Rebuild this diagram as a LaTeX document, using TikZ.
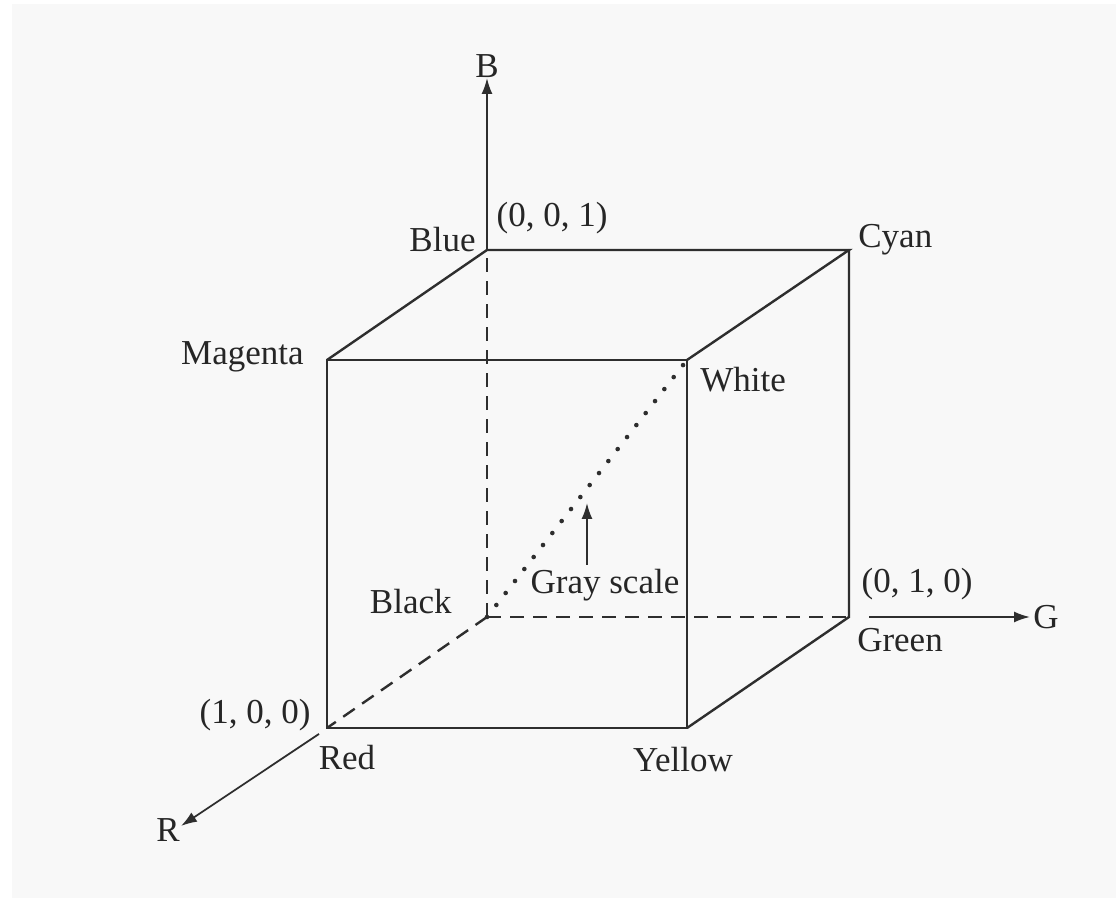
\documentclass[tikz,border=0pt]{standalone}
\usepackage{fontspec}
\setmainfont{Liberation Serif}
\usetikzlibrary{arrows.meta}
\definecolor{bg}{HTML}{F8F8F8}
\definecolor{ln}{HTML}{2E2E2E}
\begin{document}
\begin{tikzpicture}[x=0.5pt,y=-0.5pt,
  edge/.style={draw=ln,line width=1.2pt,line cap=round,line join=miter},
  hidden/.style={draw=ln,line width=1.2pt,dash pattern=on 7pt off 4.5pt},
  graydiag/.style={draw=ln,line width=2.3pt,line cap=round,dash pattern=on 0pt off 7.6pt},
  axis/.style={draw=ln,line width=0.9pt,-{Latex[length=8pt,width=5.5pt]}},
  lbl/.style={font=\fontsize{17.5}{21}\selectfont,text=black!85,inner sep=0pt}]
\useasboundingbox (0,0) rectangle (1116,898);
\fill[white] (0,0) rectangle (1116,898);
\fill[bg] (12,4) rectangle (1116,898);
% corners
\coordinate (K) at (487,617);
\coordinate (Bl) at (487,250);
\coordinate (C) at (849,250);
\coordinate (Gr) at (849,617);
\coordinate (M) at (327,360);
\coordinate (W) at (687,360);
\coordinate (Y) at (687,728);
\coordinate (Rd) at (327,728);
\coordinate (Bax) at (487,78);
\coordinate (Gax) at (1030,617);
\coordinate (Rax) at (181,826);
\coordinate (gs0) at (587,565);
\coordinate (gs1) at (587,503);
% hidden edges
\draw[hidden] (K) -- (Bl);
\draw[hidden] (K) -- (Gr);
\draw[hidden] (K) -- (Rd);
\draw[graydiag] (K) -- (W);
% visible edges
\draw[edge] (M) -- (W) -- (Y) -- (Rd) -- cycle;
\draw[edge] (M) -- (Bl) -- (C) -- (W);
\draw[edge] (C) -- (Gr) -- (Y);
% axes
\draw[axis] (Bl) -- (Bax);
\draw[axis] ([xshift=10]Gr) -- (Gax);
\draw[axis] ([shift={(-8,6)}]Rd) -- (Rax);
\draw[axis] (gs0) -- (gs1);
% labels
\node[lbl] (lB) at (487,66) {B};
\node[lbl] (lG) at (1046,617) {G};
\node[lbl] (lR) at (168,830) {R};
\node[lbl] (l001) at (552,218) {(0, 0, 1)};
\node[lbl,anchor=east] (lBlue) at (476,240) {Blue};
\node[lbl,anchor=west] (lCyan) at (858,240) {Cyan};
\node[lbl,anchor=east] (lMag) at (304,357) {Magenta};
\node[lbl,anchor=west] (lWhite) at (700,380) {White};
\node[lbl,anchor=east] (lBlack) at (452,602) {Black};
\node[lbl] (lGray) at (605,585) {Gray scale};
\node[lbl] (l010) at (917,584) {(0, 1, 0)};
\node[lbl] (lGreen) at (900,640) {Green};
\node[lbl] (l100) at (255,715) {(1, 0, 0)};
\node[lbl] (lRed) at (347,758) {Red};
\node[lbl] (lYellow) at (683,760) {Yellow};
\end{tikzpicture}
\end{document}
